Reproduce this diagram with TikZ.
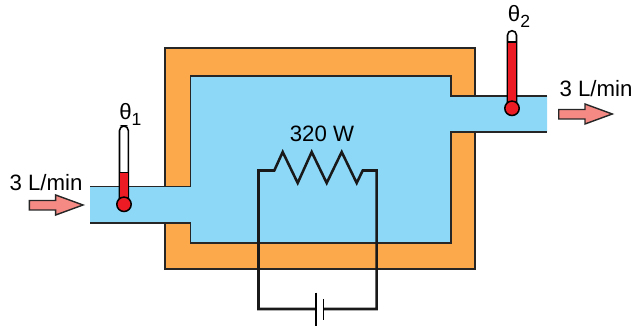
\documentclass[tikz,border=0pt]{standalone}
\usepackage{fontspec}
\usepackage{xcolor}
\setmainfont{Liberation Sans}
\definecolor{jacket}{RGB}{251,169,75}
\definecolor{water}{RGB}{141,215,247}
\definecolor{mercury}{RGB}{237,28,36}
\definecolor{flow}{RGB}{245,138,132}
\tikzstyle{wall}=[line width=1pt,draw=black!85]
\tikzstyle{wire}=[line width=1.8pt,draw=black!90,line join=miter]
\tikzstyle{plate}=[line width=1.1pt,draw=black]
\tikzstyle{tube}=[line width=1.1pt,draw=black]
\tikzstyle{bulb}=[circle,line width=1.1pt,draw=black,fill=mercury,minimum size=3.6mm,inner sep=0]
\tikzstyle{flowarrow}=[line width=1pt,draw=black!85,fill=flow,line join=miter]
\tikzstyle{lbl}=[inner sep=0,anchor=base,font=\fontsize{15.8}{18}\selectfont]
\begin{document}
\begin{tikzpicture}[x=0.025cm,y=-0.025cm]
\useasboundingbox (0,0) rectangle (633,326);

% jacket and water
\draw[wall,fill=jacket] (165,48) rectangle (475,269);
\fill[water] (90,186.5) -- (190.5,186.5) -- (190.5,76) -- (451,76) -- (451,96) -- (547,96)
  -- (547,132) -- (451,132) -- (451,243) -- (190.5,243) -- (190.5,223) -- (90,223) -- cycle;
\draw[wall] (90,186.5) -- (190.5,186.5) -- (190.5,76) -- (451,76) -- (451,96) -- (547,96);
\draw[wall] (90,223) -- (190.5,223) -- (190.5,243) -- (451,243) -- (451,132) -- (547,132);

% heater circuit
\coordinate (w1) at (258.5,170.5);
\coordinate (w2) at (376.7,170.5);
\coordinate (w3) at (376.7,309);
\coordinate (w4) at (258.5,309);
\coordinate (bat1) at (316,309);
\coordinate (bat2) at (323.7,309);
\draw[wire] (bat1) -- (w4) -- (w1) -- (274.3,170.5) -- (282.7,152) -- (297.7,183) -- (311.7,152)
  -- (326.7,183) -- (341.7,152) -- (356.7,183) -- (362.7,170.5) -- (w2) -- (w3) -- (bat2);
\draw[plate] (316,292.7) -- (316,325.7);
\draw[plate] (323.7,299) -- (323.7,320);
\node[lbl] (power) at (322,141.7) {320 W};

% thermometer 1
\draw[tube,fill=white,rounded corners=3.2pt] (119.5,204) -- (119.5,126) -- (128.3,126) -- (128.3,204) -- cycle;
\draw[tube,fill=mercury] (119.5,204) -- (119.5,172.7) -- (128.3,172.7) -- (128.3,204) -- cycle;
\node[bulb] (bulb1) at (124,204.3) {};
\node[lbl,anchor=base west] (theta1) at (119,119.3) {θ\raisebox{-4.2pt}{\fontsize{12.5}{13}\selectfont 1}};

% thermometer 2
\draw[tube,fill=white,rounded corners=3.2pt] (507.5,108) -- (507.5,30.7) -- (516.5,30.7) -- (516.5,108) -- cycle;
\draw[tube,fill=mercury] (507.5,108) -- (507.5,42) -- (516.5,42) -- (516.5,108) -- cycle;
\node[bulb] (bulb2) at (512,108.3) {};
\node[lbl,anchor=base west] (theta2) at (507.7,21.7) {θ\raisebox{-4.2pt}{\fontsize{12.5}{13}\selectfont 2}};

% flow in and out
\draw[flowarrow] (29.3,200.5) -- (55.7,200.5) -- (55.7,195) -- (83,205) -- (55.7,215) -- (55.7,210) -- (29.3,210) -- cycle;
\node[lbl] (inflow) at (46,191) {3 L/min};
\draw[flowarrow] (558.7,109.5) -- (585,109.5) -- (585,104) -- (612.3,114) -- (585,124) -- (585,119) -- (558.7,119) -- cycle;
\node[lbl] (outflow) at (596,96.7) {3 L/min};
\end{tikzpicture}
\end{document}
